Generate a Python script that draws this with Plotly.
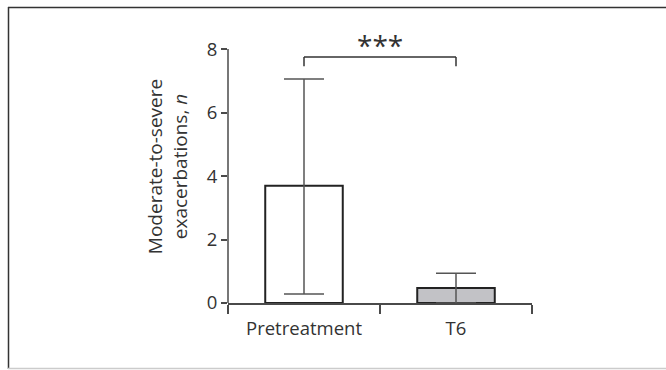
import plotly.graph_objects as go

categories = ["Pretreatment", "T6"]
means = [3.69, 0.47]
err_plus = [3.37, 0.47]
err_minus = [3.41, 0.47]
bar_fills = ["#ffffff", "#c2c2c6"]
y_ticks = [0, 2, 4, 6, 8]
sig_label = "***"
bracket_top = 7.75
bracket_drop = 7.46
star_y = 8.12

W, H = 666, 370
L, R, T, B = 228, 134, 30, 67
pw, ph = W - L - R, H - T - B

def px(x):
    return (x - L) / pw

def py(y):
    return (H - B - y) / ph

FONT = "Open Sans"
TXT = "#333333"
AX = "#4a4a4a"

fig = go.Figure()
fig.add_trace(go.Bar(
    x=categories, y=means,
    marker=dict(color=bar_fills, line=dict(color="#222222", width=2)),
    error_y=dict(type="data", array=err_plus, arrayminus=err_minus,
                 color="#555555", thickness=1.5, width=20),
    showlegend=False, hoverinfo="skip",
))

shapes = []
shapes.append(dict(type="line", xref="paper", yref="y", x0=0, x1=0,
                   y0=y_ticks[0], y1=y_ticks[-1], line=dict(color=AX, width=1.5)))
for seg in [(0, bracket_top, 1, bracket_top), (0, bracket_drop, 0, bracket_top),
            (1, bracket_drop, 1, bracket_top)]:
    shapes.append(dict(type="line", xref="x", yref="y", x0=seg[0], y0=seg[1],
                       x1=seg[2], y1=seg[3], line=dict(color="#333333", width=1.5)))
shapes.append(dict(type="line", xref="paper", yref="paper", x0=px(8), x1=px(W + 5),
                   y0=py(7.5), y1=py(7.5), line=dict(color="#333333", width=1.5)))
shapes.append(dict(type="line", xref="paper", yref="paper", x0=px(8.5), x1=px(8.5),
                   y0=py(7), y1=py(369), line=dict(color="#333333", width=1.5)))
shapes.append(dict(type="line", xref="paper", yref="paper", x0=px(8), x1=px(W + 5),
                   y0=py(368.5), y1=py(368.5), line=dict(color="#cccccc", width=1.5)))

fig.update_layout(
    width=W, height=H,
    margin=dict(l=L, r=R, t=T, b=B),
    paper_bgcolor="white", plot_bgcolor="white",
    bargap=0.49,
    font=dict(family=FONT, size=18, color=TXT),
    shapes=shapes,
    annotations=[dict(x=0.5, y=star_y, xref="x", yref="y", text=sig_label,
                      showarrow=False, font=dict(family=FONT, size=28, color=TXT))],
    xaxis=dict(showline=True, linecolor=AX, linewidth=1.5, ticks="outside",
               tickson="boundaries", ticklen=9, tickwidth=1.5, tickcolor=AX,
               showgrid=False, zeroline=False, range=[-0.5, 1.5],
               ticklabelstandoff=8,
               tickfont=dict(size=18.5, color=TXT)),
    yaxis=dict(range=[0, 8.6], tickvals=y_ticks, ticks="outside", ticklen=6,
               tickwidth=1.5, tickcolor=AX, showline=False, showgrid=False,
               zeroline=False, tickfont=dict(size=18.5, color=TXT),
               title=dict(text="Moderate-to-severe<br>exacerbations, <i>n</i>",
                          font=dict(size=19, color=TXT), standoff=14)),
)

fig.write_html("out.html", config={"displayModeBar": False},
               post_script="document.body.style.margin='0';document.body.style.overflow='hidden';")
